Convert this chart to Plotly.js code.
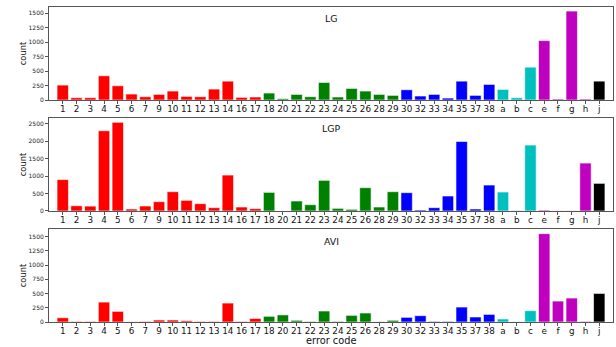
<!DOCTYPE html>
<html>
<head>
<meta charset="utf-8">
<script src="https://cdn.plot.ly/plotly-3.0.1.min.js"></script>
<style>html,body{margin:0;padding:0;background:#fff;}#chart{width:616px;height:347px;}</style>
</head>
<body>
<div id="chart"></div>
<script>
var categories = ["1","2","3","4","5","6","7","9","10","11","12","13","14","16","17",
  "18","20","21","22","23","24","25","26","28","29",
  "30","32","33","34","35","37","38",
  "a","b","c","e","f","g","h","j"];

var lgCounts  = [258,40,40,418,246,103,57,97,155,63,57,189,326,46,52,
  120,23,97,57,303,52,200,155,97,80,
  177,69,97,34,326,80,269,
  183,40,567,1025,17,1534,17,326];

var lgpCounts = [900,150,140,2300,2540,57,143,267,553,305,210,95,1030,114,67,
  534,0,286,181,878,76,48,668,114,553,
  525,29,95,429,1994,57,744,
  544,15,1889,25,5,5,1374,792];

var aviCounts = [75,10,10,350,187,3,10,35,35,23,10,10,333,10,62,
  100,125,30,10,193,10,117,158,5,30,
  82,111,10,10,263,88,134,
  53,5,199,1553,368,421,10,502];

var panelNames = ["LG","LGP","AVI"];

// colour groups
var redCodes = ["1","2","3","4","5","6","7","9","10","11","12","13","14","16","17"];
var greenCodes = ["18","20","21","22","23","24","25","26","28","29"];
var blueCodes = ["30","32","33","34","35","37","38"];
var cyanCodes = ["a","b","c"];
var magentaCodes = ["e","f","g","h"];

function colorOf(c){
  if (redCodes.indexOf(c) >= 0) return "#ff0000";
  if (greenCodes.indexOf(c) >= 0) return "#008000";
  if (blueCodes.indexOf(c) >= 0) return "#0000ff";
  if (cyanCodes.indexOf(c) >= 0) return "#00bfbf";
  if (magentaCodes.indexOf(c) >= 0) return "#bf00bf";
  return "#000000";
}
var colors = categories.map(colorOf);

var series = [lgCounts, lgpCounts, aviCounts];
var traces = series.map(function(vals, i){
  return {
    type: "bar",
    x: categories,
    y: vals,
    xaxis: i === 0 ? "x" : "x" + (i+1),
    yaxis: i === 0 ? "y" : "y" + (i+1),
    marker: {color: colors, line: {color: "#ffffff", width: 0.6}},
    showlegend: false,
    hoverinfo: "x+y"
  };
});

var font = {family: "DejaVu Sans, sans-serif", color: "#000"};

function xax(anchor){
  return {
    type: "category", anchor: anchor, range: [-1, 40],
    showline: true, mirror: true, linecolor: "#555", linewidth: 1,
    ticks: "outside", ticklen: 3, tickcolor: "#555", showgrid: false, zeroline: false,
    ticklabelstandoff: -3,
    tickfont: {family: font.family, size: 8.8, color: "#111"}, tickangle: 0
  };
}
function yax(anchor, domain, range, dtick){
  return {
    anchor: anchor, domain: domain, range: range, dtick: dtick, tick0: 0,
    showline: true, mirror: true, linecolor: "#555", linewidth: 1,
    ticks: "outside", ticklen: 3, tickcolor: "#555", showgrid: false, zeroline: false,
    tickfont: {family: font.family, size: 6, color: "#222"},
    title: {text: "count", font: {family: font.family, size: 8.3, color: "#111"}, standoff: 0}
  };
}

var annos = panelNames.map(function(n, i){
  var ys = [0.962, 0.613, 0.257];
  return {text: n, xref: "paper", yref: "paper", x: 0.5, y: ys[i],
    xanchor: "center", yanchor: "middle", showarrow: false,
    font: {family: font.family, size: 9.4, color: "#111"}};
});
annos.push({text: "error code", xref: "paper", yref: "paper", x: 0.5, y: -0.0794,
  xanchor: "center", yanchor: "bottom", showarrow: false, borderpad: 0,
  font: {family: font.family, size: 9.8, color: "#111"}});

var layout = {
  width: 616, height: 347,
  margin: {l: 49, r: 3, t: 7, b: 25},
  paper_bgcolor: "#fff", plot_bgcolor: "#fff",
  bargap: 0.17,
  font: font,
  xaxis: xax("y"),
  xaxis2: xax("y2"),
  xaxis3: xax("y3"),
  yaxis: yax("x", [0.7047, 1], [0, 1605], 250),
  yaxis2: yax("x2", [0.3524, 0.6476], [0, 2665], 500),
  yaxis3: yax("x3", [0, 0.2953], [0, 1635], 250),
  annotations: annos
};

Plotly.newPlot("chart", traces, layout, {displayModeBar: false, staticPlot: true});
</script>
</body>
</html>
